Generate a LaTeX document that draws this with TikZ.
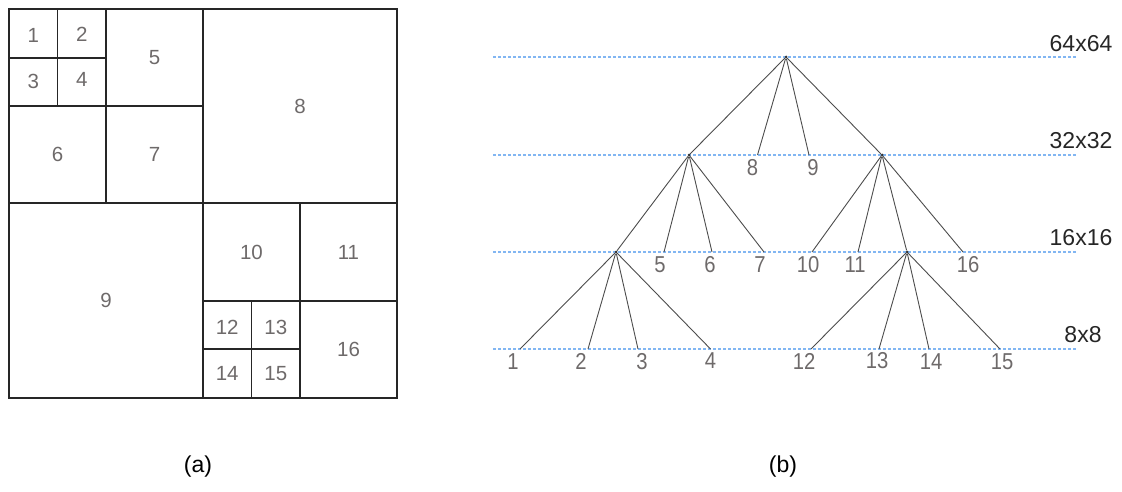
\documentclass[tikz,border=0pt]{standalone}
\usepackage{fontspec}
\setmainfont{Liberation Sans}
\newfontfamily\narrowsans[FakeStretch=0.88]{Liberation Sans}
\usepackage{xcolor}
\usepackage{tikz}
\usetikzlibrary{positioning}
\definecolor{numgray}{RGB}{110,106,106}
\definecolor{levelblue}{RGB}{130,182,242}

\begin{document}
\begin{tikzpicture}[
    x=1pt, y=-1pt,
    cellline/.style={draw=black!85, line width=1.9pt},
    num/.style={text=numgray, font=\fontsize{20.5}{24}\selectfont, inner sep=0pt},
    leaf/.style={text=numgray, font=\narrowsans\fontsize{23}{26}\selectfont, inner sep=0pt},
    levelline/.style={draw=levelblue, line width=1.6pt, dash pattern=on 3pt off 2pt},
    leveltext/.style={font=\fontsize{23}{26}\selectfont, text=black!85, inner sep=0pt},
    dot/.style={circle, fill=black!80, inner sep=0pt, minimum size=3pt},
    edge/.style={draw=black!70, line width=0.9pt},
    caption/.style={font=\fontsize{23}{27}\selectfont, inner sep=0pt}
]
    \useasboundingbox (0,0) rectangle (1122,492);

    % (a) partition of the 64x64 block
    \begin{scope}[shift={(9,9)}, x=48.5pt, y=-48.6pt]
        \draw[cellline] (0,0) rectangle (8,8);
        \draw[cellline] (4,0) -- (4,8) (0,4) -- (8,4);
        \draw[cellline] (2,0) -- (2,4) (0,2) -- (4,2);
        \draw[cellline] (1,0) -- (1,2) (0,1) -- (2,1);
        \draw[cellline] (6,4) -- (6,8) (4,6) -- (8,6);
        \draw[cellline] (5,6) -- (5,8) (4,7) -- (6,7);

        \node[num] (c1) at (0.5,0.55) {1};
        \node[num] (c2) at (1.5,0.53) {2};
        \node[num] (c3) at (0.5,1.5) {3};
        \node[num] (c4) at (1.5,1.45) {4};
        \node[num] (c5) at (3,1) {5};
        \node[num] (c6) at (1,3) {6};
        \node[num] (c7) at (3,3) {7};
        \node[num] (c8) at (6,2) {8};
        \node[num] (c9) at (2,6) {9};
        \node[num] (c10) at (5,5) {10};
        \node[num] (c11) at (7,5) {11};
        \node[num] (c12) at (4.5,6.55) {12};
        \node[num] (c13) at (5.5,6.55) {13};
        \node[num] (c14) at (4.5,7.5) {14};
        \node[num] (c15) at (5.5,7.5) {15};
        \node[num] (c16) at (7,7) {16};
    \end{scope}

    % (b) quadtree
    \draw[levelline] (493,57) -- (1076,57);
    \draw[levelline] (493,155) -- (1076,155);
    \draw[levelline] (493,252) -- (1076,252);
    \draw[levelline] (493,349) -- (1076,349);
    \node[leveltext] (l64) at (1081,44) {64x64};
    \node[leveltext] (l32) at (1081,141) {32x32};
    \node[leveltext] (l16) at (1081,238) {16x16};
    \node[leveltext] (l8) at (1083,335) {8x8};

    \node[dot] (root) at (786,57) {};
    \node[dot] (nA) at (689,155) {};
    \node[dot] (nB) at (882,155) {};
    \node[dot] (nC) at (616,252) {};
    \node[dot] (nD) at (907,252) {};

    \coordinate (e8) at (757.5,155);
    \coordinate (e9) at (809,155);
    \coordinate (e5) at (664,252);
    \coordinate (e6) at (712,252);
    \coordinate (e7) at (764,252);
    \coordinate (e10) at (812,252);
    \coordinate (e11) at (858,252);
    \coordinate (e16) at (963,252);
    \coordinate (e1) at (520,349);
    \coordinate (e2) at (588,349);
    \coordinate (e3) at (638,349);
    \coordinate (e4) at (710.5,349);
    \coordinate (e12) at (811,349);
    \coordinate (e13) at (879,349);
    \coordinate (e14) at (929,349);
    \coordinate (e15) at (1000,349);

    \draw[edge] (root) -- (nA);
    \draw[edge] (root) -- (e8);
    \draw[edge] (root) -- (e9);
    \draw[edge] (root) -- (nB);
    \draw[edge] (nA) -- (nC);
    \draw[edge] (nA) -- (e5);
    \draw[edge] (nA) -- (e6);
    \draw[edge] (nA) -- (e7);
    \draw[edge] (nB) -- (e10);
    \draw[edge] (nB) -- (e11);
    \draw[edge] (nB) -- (nD);
    \draw[edge] (nB) -- (e16);
    \draw[edge] (nC) -- (e1);
    \draw[edge] (nC) -- (e2);
    \draw[edge] (nC) -- (e3);
    \draw[edge] (nC) -- (e4);
    \draw[edge] (nD) -- (e12);
    \draw[edge] (nD) -- (e13);
    \draw[edge] (nD) -- (e14);
    \draw[edge] (nD) -- (e15);

    \node[leaf, below=4.5pt of e8, xshift=-5pt] (t8) {8};
    \node[leaf, below=4.5pt of e9, xshift=4pt] (t9) {9};
    \node[leaf, below=4.5pt of e5, xshift=-4pt] (t5) {5};
    \node[leaf, below=4.5pt of e6, xshift=-2pt] (t6) {6};
    \node[leaf, below=4.5pt of e7, xshift=-4pt] (t7) {7};
    \node[leaf, below=4.5pt of e10, xshift=-4pt] (t10) {10};
    \node[leaf, below=4.5pt of e11, xshift=-3pt] (t11) {11};
    \node[leaf, below=4.5pt of e16, xshift=5pt] (t16) {16};
    \node[leaf, below=4.5pt of e1, xshift=-7pt] (t1) {1};
    \node[leaf, below=4.5pt of e2, xshift=-7pt] (t2) {2};
    \node[leaf, below=4.5pt of e3, xshift=4pt] (t3) {3};
    \node[leaf, below=3pt of e4] (t4) {4};
    \node[leaf, below=4.5pt of e12, xshift=-7pt] (t12) {12};
    \node[leaf, below=3pt of e13, xshift=-2pt] (t13) {13};
    \node[leaf, below=4.5pt of e14, xshift=2pt] (t14) {14};
    \node[leaf, below=4.5pt of e15, xshift=2pt] (t15) {15};

    \node[caption] (capa) at (198,467) {(a)};
    \node[caption] (capb) at (783,467) {(b)};
\end{tikzpicture}
\end{document}
